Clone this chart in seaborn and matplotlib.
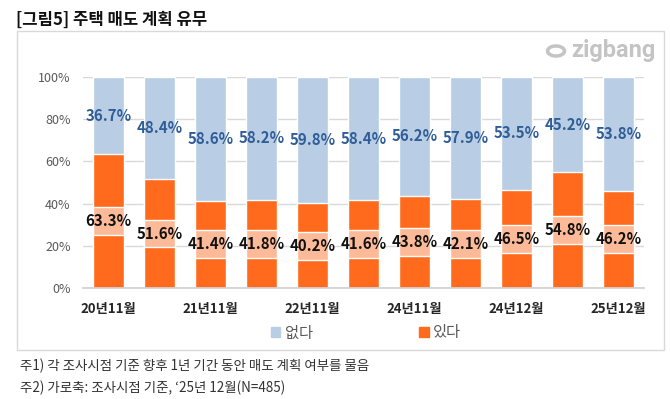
import matplotlib
matplotlib.use("Agg")
import matplotlib.pyplot as plt
import matplotlib.patches as mpatches
import numpy as np
import pandas as pd
import seaborn as sns

# survey points (only every other one is labelled on the axis)
tick_labels = ["20년11월", "", "21년11월", "", "22년11월", "", "24년11월", "", "24년12월", "", "25년12월"]
yes_pct = [63.3, 51.6, 41.4, 41.8, 40.2, 41.6, 43.8, 42.1, 46.5, 54.8, 46.2]
no_pct = [36.7, 48.4, 58.6, 58.2, 59.8, 58.4, 56.2, 57.9, 53.5, 45.2, 53.8]

BLUE = "#B9CDE5"
ORANGE = "#FF6A1C"
BAND = "#FDBA98"
BLUE_TXT = "#2F5D96"

sns.set_theme(style="white")
plt.rcParams["font.family"] = ["Noto Sans CJK KR", "DejaVu Sans"]

df = pd.DataFrame({"idx": range(len(yes_pct)), "yes": yes_pct, "no": no_pct})
df["total"] = df["yes"] + df["no"]

fig = plt.figure(figsize=(6.70, 3.99), dpi=100)
W, H = 670, 399
ax = fig.add_axes([83 / W, 1 - 288 / H, (644 - 83) / W, (288 - 77) / H])

sns.barplot(data=df, x="idx", y="total", color=BLUE, width=0.61, saturation=1, ax=ax, zorder=2)
sns.barplot(data=df, x="idx", y="yes", color=ORANGE, width=0.61, saturation=1, ax=ax, zorder=3)

# light highlight band behind the 있다 labels
band_h = 13.2
ax.bar(df["idx"], band_h, bottom=df["yes"] / 2 - band_h / 2, width=0.61, color=BAND, zorder=4)

for i, (y, n) in enumerate(zip(yes_pct, no_pct)):
    ax.text(i, y / 2, f"{y:.1f}%", ha="center", va="center", fontsize=10.8,
            fontweight="bold", color="#111111", zorder=5)
    ax.text(i, y + n / 2, f"{n:.1f}%", ha="center", va="center", fontsize=10.8,
            fontweight="bold", color=BLUE_TXT, zorder=5)

ax.set_xlim(-0.5, len(yes_pct) - 0.5)
ax.set_ylim(0, 100)
ax.set_yticks([0, 20, 40, 60, 80, 100])
ax.set_yticklabels([f"{v}%" for v in range(0, 101, 20)], fontsize=9, color="#595959")
ax.set_xticks(range(len(tick_labels)))
ax.set_xticklabels(tick_labels, fontsize=9.5, fontweight="bold", color="#262626")
ax.tick_params(axis="y", length=0, pad=9)
ax.tick_params(axis="x", length=0, pad=10)
ax.set_xlabel("")
ax.set_ylabel("")
ax.yaxis.grid(True, color="#D9D9D9", linewidth=1)
ax.set_axisbelow(True)
for s in ["top", "right", "left"]:
    ax.spines[s].set_visible(False)
ax.spines["bottom"].set_color("#D0D0D0")
ax.spines["bottom"].set_zorder(6)

handles = [mpatches.Patch(color=BLUE, label="없다"), mpatches.Patch(color=ORANGE, label="있다")]
fig.legend(handles=handles, loc="center", bbox_to_anchor=(366 / W, 1 - 333 / H), ncol=2,
           frameon=False, fontsize=11, handlelength=0.6, handleheight=0.6,
           handletextpad=0.3, columnspacing=7.0, labelcolor="#595959")

# outer frame
fig.patches.append(mpatches.Rectangle((17 / W, 1 - 350 / H), (664 - 17) / W, (350 - 31) / H,
                                      transform=fig.transFigure, fill=False,
                                      edgecolor="#D9D9D9", linewidth=1))

fig.text(16 / W, 1 - 20 / H, "[그림5] 주택 매도 계획 유무", fontsize=12, fontweight="bold",
         color="#111111", va="center", ha="left")
fig.text(655 / W, 1 - 51 / H, "zigbang", fontsize=17, fontweight="bold", color="#C4C4C4",
         va="center", ha="right", family=["Roboto", "DejaVu Sans"])
fig.patches.append(mpatches.Ellipse((556 / W, 1 - 51 / H), 17 / W, 10 / H, angle=-20,
                                    transform=fig.transFigure, fill=False,
                                    edgecolor="#C4C4C4", linewidth=2.5))

fig.text(20 / W, 1 - 366 / H, "주1) 각 조사시점 기준 향후 1년 기간 동안 매도 계획 여부를 물음",
         fontsize=9.7, color="#333333", va="center", ha="left")
fig.text(20 / W, 1 - 388 / H, "주2) 가로축: 조사시점 기준, ‘25년 12월(N=485)",
         fontsize=9.7, color="#333333", va="center", ha="left")

fig.savefig("out.png", dpi=100, facecolor="white")
